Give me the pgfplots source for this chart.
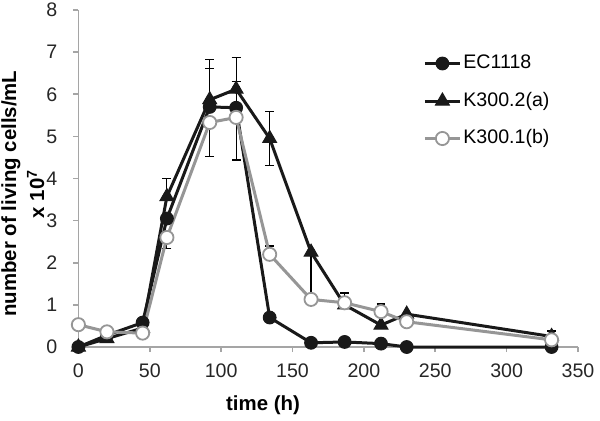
\documentclass[border=0pt]{standalone}
\usepackage{pgfplots}
\pgfplotsset{compat=1.18}
\usepackage{fontspec}
\setmainfont{Liberation Sans}
\definecolor{axgray}{RGB}{165,165,165}
\definecolor{sgray}{RGB}{150,150,150}
\definecolor{sblack}{RGB}{25,25,25}
\pgfplotsset{errplot/.style={only marks, mark=none, forget plot, black,
  error bars/.cd, y dir=#1, y explicit,
  error bar style={line width=0.6pt, draw=black},
  error mark options={rotate=90, draw=black, line width=0.6pt, mark size=2.2pt}}}
\begin{document}
\begin{tikzpicture}
\useasboundingbox (0,0) rectangle (300pt,210pt);
\begin{axis}[
  at={(39.2pt,36.5pt)}, anchor=south west,
  scale only axis, width=249.8pt, height=168.5pt,
  xmin=0, xmax=350, ymin=0, ymax=8,
  xtick={0,50,...,350}, ytick={0,1,...,8},
  axis x line*=bottom, axis y line*=left,
  axis line style={axgray, line width=0.8pt},
  tick align=outside, major tick length=2.5pt,
  tick style={axgray, line width=0.8pt},
  clip=false,
  /pgf/number format/assume math mode=true,
  ticklabel style={font=\fontsize{9.8}{11}\selectfont, text=black!85},
  xticklabel style={yshift=-2.5pt},
  yticklabel style={xshift=-4.5pt},
  xlabel={time (h)},
  xlabel style={at={(axis description cs:0.3695,-0.172)}, anchor=center, font=\bfseries\fontsize{10.2}{12}\selectfont},
  ylabel={number of living cells/mL\\[2pt]x 10\textsuperscript{7}},
  ylabel style={at={(axis description cs:-0.111,0.455)}, anchor=center, align=center, font=\bfseries\fontsize{10.2}{12}\selectfont},
  legend style={at={(axis description cs:0.6898,0.730)}, anchor=west, draw=none, fill=none, inner sep=0pt, row sep=7.75pt, font=\fontsize{9.8}{11}\selectfont, nodes={inner sep=1pt, text height=7pt, text depth=2pt}},
  legend cell align=left,
  legend image code/.code={\draw[mark repeat=2,mark phase=2,#1] plot coordinates {(0pt,0pt) (8.75pt,0pt) (17.5pt,0pt)};},
]
% error bars (drawn beneath the series)
\addplot[errplot=plus] coordinates {
 (62,3.57) +- (0,0.43)
 (92,5.87) +- (0,0.96)
 (110.5,6.12) +- (0,0.76)
 (186.5,1.02) +- (0,0.26)
 (331.5,0.25) +- (0,0.13)
 (92,5.70) +- (0,0.92)
 (110.5,5.70) +- (0,0.60)
 (134,2.20) +- (0,0.20)
 (212,0.84) +- (0,0.18)
};
\addplot[errplot=minus] coordinates {
 (163,2.25) +- (0,1.05)
 (62,2.60) +- (0,0.26)
 (92,5.33) +- (0,0.81)
 (110.5,5.45) +- (0,1.01)
};
\addplot[errplot=both] coordinates {
 (134,4.95) +- (0,0.65)
};
\addplot[sblack, line width=1.5pt, mark=*, mark size=3.2pt, mark options={fill=sblack, draw=sblack, line width=0.5pt}]
coordinates {(0,0) (20,0.28) (45,0.58) (62,3.05) (92,5.70) (110.5,5.68) (134,0.70) (163,0.10) (186.5,0.12) (212,0.08) (230,0.0) (331.5,0.0)};
\addlegendentry{EC1118}
\addplot[sblack, line width=1.5pt, mark=triangle*, mark size=4pt, mark options={fill=sblack, draw=sblack, line width=0.5pt}]
coordinates {(0,0) (20,0.20) (45,0.45) (62,3.57) (92,5.87) (110.5,6.12) (134,4.95) (163,2.25) (186.5,1.00) (212,0.52) (230,0.78) (331.5,0.25)};
\addlegendentry{K300.2(a)}
\addplot[sgray, line width=1.5pt, mark=*, mark size=3.3pt, mark options={fill=white, draw=sgray, line width=0.9pt}]
coordinates {(0,0.53) (20,0.36) (45,0.33) (62,2.60) (92,5.33) (110.5,5.45) (134,2.20) (163,1.13) (186.5,1.05) (212,0.84) (230,0.60) (331.5,0.17)};
\addlegendentry{K300.1(b)}
\end{axis}
\end{tikzpicture}
\end{document}
